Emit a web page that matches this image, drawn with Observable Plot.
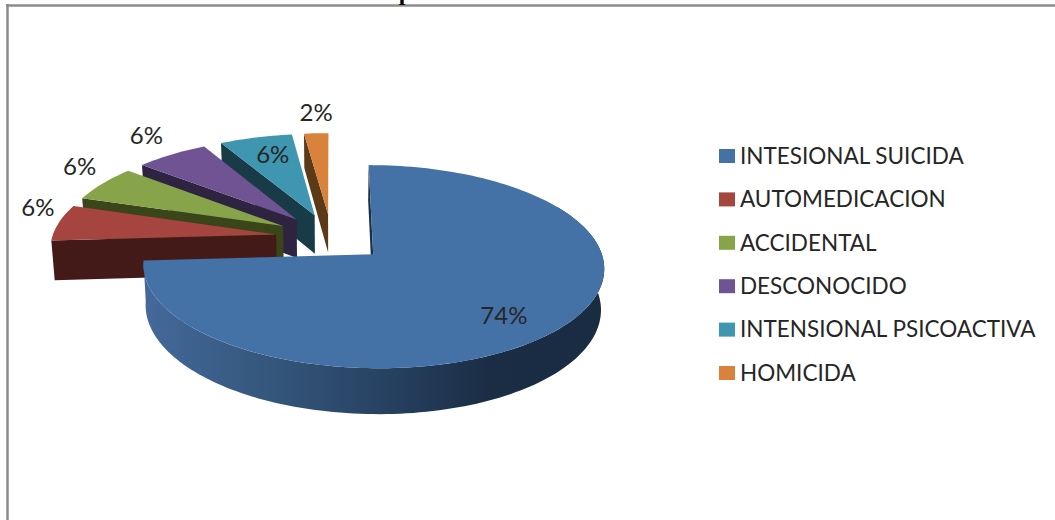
<!DOCTYPE html>
<html>
<head>
<meta charset="utf-8">
<script src="https://cdn.jsdelivr.net/npm/d3@7"></script>
<script src="https://cdn.jsdelivr.net/npm/@observablehq/plot@0.6"></script>
<style>html,body{margin:0;padding:0;background:#fff;overflow:hidden}</style>
</head>
<body>
<div id="chart"></div>
<script>
const categories = ["INTESIONAL SUICIDA","AUTOMEDICACION","ACCIDENTAL","DESCONOCIDO","INTENSIONAL PSICOACTIVA","HOMICIDA"];
const values = [74, 6, 6, 6, 6, 2];
const faceColors = ["#4471a6","#a6443f","#87a44b","#6f5392","#3e96b1","#d9823b"];
const wallColors = ["#1c2f47","#431a17","#3a4519","#2e2340","#183b47","#5c3917"];
const labelNudge = [[-55,-13],[-21,-14],[-23,-16],[-25,-18],[17,18],[0,-20]];

const W = 1055, H = 520;
// pie projection
const x0 = 331, y0 = 237, R = 224, A = 96, P = 0.1195, T = 39.5, explode = 0.25, bottomShrink = 0.988;
const rad = d => d * Math.PI / 180;
const total = d3.sum(values);
let acc = 0;
const slices = values.map((v, i) => {
  const a0 = acc / total * 360; acc += v; const a1 = acc / total * 360;
  const mid = rad((a0 + a1) / 2);
  return {i, a0, a1, ox: explode * Math.sin(mid), oy: explode * Math.cos(mid), mid};
});
function proj(X, Y, low) {
  const s = 1 / (1 + P * Y);
  const x = x0 + R * X * s, y = y0 - A * Y * s;
  return low ? {x: x0 + bottomShrink * (x - x0), y: y + T * s} : {x, y};
}
const rimPt = (sl, deg, low, f = 1) => proj(sl.ox + f * Math.sin(rad(deg)), sl.oy + f * Math.cos(rad(deg)), low);
const apex = (sl, low) => proj(sl.ox, sl.oy, low);
const arc = (sl, from, to, low) => {
  const n = Math.max(2, Math.ceil(Math.abs(to - from) / 1.5));
  return d3.range(n + 1).map(k => rimPt(sl, from + (to - from) * k / n, low));
};
const facePts = sl => [apex(sl), ...arc(sl, sl.a0, sl.a1)];
const edgeWall = (sl, deg) => [apex(sl), rimPt(sl, deg), rimPt(sl, deg, true), apex(sl, true)];
const rimWall = (sl, from, to) => [...arc(sl, from, to), ...arc(sl, to, from, true)];

const poly = (pts, fill) => Plot.line(pts, {x: "x", y: "y", fill, stroke: "none"});

const marks = [];
// back-to-front: smaller slices first (last in the list is furthest back)
for (const sl of slices.slice(1).reverse()) {
  marks.push(poly(edgeWall(sl, sl.a0), wallColors[sl.i]));
  marks.push(poly(facePts(sl), faceColors[sl.i]));
}
const main = slices[0];
marks.push(poly(edgeWall(main, main.a0), wallColors[0]));
marks.push(poly(rimWall(main, 60, main.a1), "url(#mainWall)"));
marks.push(poly(facePts(main), faceColors[0]));

// data labels
const labels = slices.map(sl => {
  const p = rimPt(sl, (sl.a0 + sl.a1) / 2);
  return {t: values[sl.i] + "%", x: p.x + labelNudge[sl.i][0], y: p.y + labelNudge[sl.i][1]};
});
marks.push(Plot.text(labels, {x: "x", y: "y", text: "t", fontSize: 24, fontFamily: "Lato", fill: "#262626"}));

// legend
const legend = categories.map((c, i) => ({c, i, color: faceColors[i], y: 156 + i * 43.4}));
marks.push(Plot.rect(legend, {x1: () => 719, x2: () => 735, y1: d => d.y - 7, y2: d => d.y + 7, fill: "color"}));
marks.push(Plot.text(legend, {x: () => 739.5, y: "y", text: "c", textAnchor: "start", fontSize: 22.5, fontFamily: "Lato", fill: "#262626"}));

// frame
marks.push(Plot.ruleY([5], {x1: 6, x2: W, stroke: "#8c8c8c", strokeWidth: 2.5}));
marks.push(Plot.ruleX([7], {y1: 4, y2: H, stroke: "#8c8c8c", strokeWidth: 2.5}));
// clipped remnant of the title
marks.push(Plot.text(["p"], {x: () => 405, y: () => -8, text: d => d, fontFamily: "Liberation Serif", fontWeight: "bold", fontSize: 24, fill: "#000"}));

const svg = Plot.plot({
  width: W, height: H, margin: 0,
  x: {domain: [0, W], axis: null},
  y: {domain: [H, 0], axis: null},
  color: {type: "identity"},
  style: {background: "#fff", display: "block"},
  marks
});
const grad = d3.select(svg).insert("defs", ":first-child").append("linearGradient")
  .attr("id", "mainWall").attr("x1", "0").attr("x2", "1").attr("y1", "0").attr("y2", "0");
[[0, "#44699b"], [0.3, "#335579"], [0.55, "#263f5f"], [0.75, "#1b2d45"], [1, "#1a2c42"]]
  .forEach(([o, c]) => grad.append("stop").attr("offset", o).attr("stop-color", c));
document.getElementById("chart").append(svg);
</script>
</body>
</html>
